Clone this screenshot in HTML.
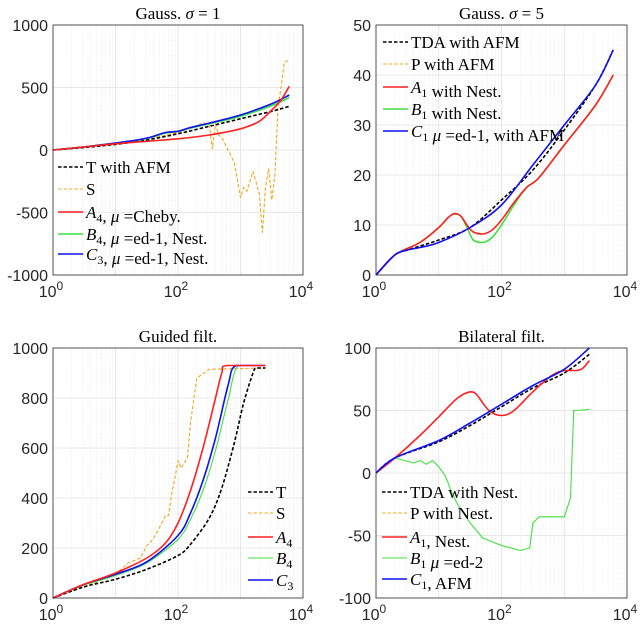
<!DOCTYPE html>
<html><head><meta charset="utf-8"><style>
body{margin:0;background:#fff}
svg{display:block}
.tk{font-family:"Liberation Sans",sans-serif;font-size:16px;fill:#262626}
.tt{font-family:"Liberation Serif",serif;font-size:17px;fill:#000}
.lg{font-family:"Liberation Serif",serif;font-size:17px;fill:#000}
</style></head><body>
<svg id="fig" width="640" height="628" viewBox="0 0 640 628" xmlns="http://www.w3.org/2000/svg"></svg>
<script>
// ---- data (x given as log10 of iteration, y values) ----
const p1T_x=[0,0.5,1,1.5,2,2.5,3,3.5,3.78];
const p1T_y=[0,20,45,80,130,190,250,310,350];
const p1S_x=[0,0.5,1,1.5,2,2.3,2.4,2.5,2.55,2.6,2.65,2.7,2.8,2.9,3.0,3.05,3.1,3.2,3.3,3.35,3.4,3.45,3.5,3.55,3.6,3.65,3.7,3.78];
const p1S_y=[0,22,50,85,140,190,220,200,10,210,120,100,0,-100,-380,-300,-330,-170,-350,-660,-300,-150,-400,-200,350,500,700,720];
const p1A_x=[0,0.5,1,1.5,2,2.5,3,3.3,3.5,3.65,3.78];
const p1A_y=[0,25,50,70,90,120,170,230,320,400,510];
const p1B_x=[0,0.5,1,1.5,1.8,2,2.2,2.5,3,3.5,3.78];
const p1B_y=[0,25,55,92,135,148,175,210,270,355,420];
const p1C_x=[0,0.5,1,1.5,1.8,2,2.2,2.5,3,3.5,3.78];
const p1C_y=[0,25,55,95,140,150,180,215,280,370,440];

const p2T_x=[0,0.3,0.5,1,1.5,2,2.5,3,3.5,3.78];
const p2T_y=[0,4,5,7,9.5,15,21,29,38,45];
const p2A_x=[0,0.3,0.7,1,1.15,1.25,1.35,1.45,1.55,1.7,1.85,2,2.2,2.4,2.6,3,3.5,3.78];
const p2A_y=[0,4,6.5,9.5,11.5,12.3,11.8,10,8.6,8.2,9,11,14.5,17.5,19.5,26,34,40];
const p2B_x=[0,0.3,0.7,1,1.15,1.25,1.35,1.45,1.55,1.7,1.85,2,2.2,2.4,2.6,3,3.5,3.78];
const p2B_y=[0,4,6.5,9.5,11.5,12.2,11.8,9.5,7,6.5,7.5,10,14,17.5,19.5,26,34,40];
const p2C_x=[0,0.3,0.5,0.7,1,1.5,2,2.5,3,3.5,3.78];
const p2C_y=[0,4,5,5.5,6.5,9.5,14,22,30,38,45];

const p3T_x=[0,0.5,1,1.5,2,2.2,2.5,2.7,2.9,3.05,3.2,3.25,3.4];
const p3T_y=[0,45,75,115,170,215,320,440,620,780,900,920,920];
const p3S_x=[0,0.5,1,1.2,1.4,1.5,1.6,1.7,1.8,1.85,1.9,1.95,2.0,2.05,2.1,2.15,2.2,2.3,2.5,3.4];
const p3S_y=[0,45,95,140,160,210,235,280,330,330,420,480,550,520,540,560,700,880,915,920];
const p3A_x=[0,0.5,1,1.5,1.8,2,2.2,2.4,2.6,2.7,2.78,3.4];
const p3A_y=[0,55,100,160,220,300,430,600,800,900,930,930];
const p3B_x=[0,0.5,1,1.5,2,2.2,2.4,2.6,2.8,2.97,3.4];
const p3B_y=[0,52,90,140,235,315,430,590,790,930,930];
const p3C_x=[0,0.5,1,1.5,2,2.2,2.4,2.6,2.8,2.93,3.4];
const p3C_y=[0,55,95,145,250,340,470,640,850,930,930];

const p4T_x=[0,0.3,1,1.5,2,2.5,3,3.4];
const p4T_y=[0,12,25,38,53,68,80,95];
const p4C_x=[0,0.3,1,1.5,2,2.5,3,3.4];
const p4C_y=[0,12,26,40,55,70,83,100];
const p4A_x=[0,0.3,0.7,1,1.3,1.5,1.6,1.8,2,2.2,2.5,2.8,3,3.2,3.3,3.4];
const p4A_y=[0,12,30,45,60,65,63,50,46,50,65,78,82,82,84,90];
const p4B_x=[0,0.3,0.6,0.7,0.8,0.9,1,1.1,1.15,1.2,1.3,1.5,1.7,2,2.3,2.45,2.5,2.6,2.8,3.0,3.1,3.15,3.2,3.4];
const p4B_y=[0,12,8,10,7,10,5,-2,-8,-15,-25,-40,-52,-58,-62,-60,-40,-35,-35,-35,-20,50,50,51];

const yTicks1=[-1000,-500,0,500,1000];
const yTicks2=[0,10,20,30,40,50];
const yTicks3=[0,200,400,600,800,1000];
const yTicks4=[-100,-50,0,50,100];

const NS="http://www.w3.org/2000/svg";
const svg=document.getElementById('fig');
function mk(tag,attrs,parent){const e=document.createElementNS(NS,tag);for(const k in attrs)e.setAttribute(k,attrs[k]);(parent||svg).appendChild(e);return e;}
function smoothPath(P){
  let d='M'+P[0][0].toFixed(1)+','+P[0][1].toFixed(1);
  const cl=(v,a,b)=>Math.max(Math.min(a,b),Math.min(Math.max(a,b),v));
  for(let i=0;i<P.length-1;i++){
    const p0=P[i-1]||P[i],p1=P[i],p2=P[i+1],p3=P[i+2]||P[i+1];
    const c1=[p1[0]+(p2[0]-p0[0])/6,cl(p1[1]+(p2[1]-p0[1])/6,p1[1],p2[1])];
    const c2=[p2[0]-(p3[0]-p1[0])/6,cl(p2[1]-(p3[1]-p1[1])/6,p1[1],p2[1])];
    d+=' C'+c1.map(v=>v.toFixed(1)).join(',')+' '+c2.map(v=>v.toFixed(1)).join(',')+' '+p2[0].toFixed(1)+','+p2[1].toFixed(1);
  }
  return d;
}

function panel(o){
  const g=mk('g',{});
  
  
  const X=v=>o.x0+(o.x1-o.x0)*v/4;
  const Y=v=>o.y1-(o.y1-o.y0)*(v-o.ymin)/(o.ymax-o.ymin);
  for(let d=0;d<4;d++)for(let m=2;m<10;m++){const xx=X(d+Math.log10(m));
    mk('line',{x1:xx,x2:xx,y1:o.y0,y2:o.y1,stroke:'#e3e3e3','stroke-width':0.6,'stroke-dasharray':'1,1.5'},g);}
  for(let d=1;d<4;d++){const xx=X(d);mk('line',{x1:xx,x2:xx,y1:o.y0,y2:o.y1,stroke:'#e0e0e0','stroke-width':0.8},g);}
  o.yt.forEach(t=>{const yy=Y(t);
    if(t!==o.ymin&&t!==o.ymax)mk('line',{x1:o.x0,x2:o.x1,y1:yy,y2:yy,stroke:'#e0e0e0','stroke-width':0.8},g);
    const tl=mk('text',{x:o.x0-5,y:yy+6,'text-anchor':'end',class:'tk'},g);tl.textContent=t;
    });
  [0,2,4].forEach(d=>{const tx=mk('text',{x:X(d)-2,y:o.y1+22,'text-anchor':'middle',class:'tk'},g);
    
    tx.appendChild(document.createTextNode('10'));
    const s=mk('tspan',{dy:-7,'font-size':'12px'},tx);s.textContent=String(d);});
  o.series.forEach(s=>{
    const P=s.x.map((v,i)=>[X(v),Y(s.y[i])]);
    const pl=mk('path',{d:s.rough?'M'+P.map(p=>p[0].toFixed(1)+','+p[1].toFixed(1)).join(' L'):smoothPath(P),fill:'none',stroke:s.c,'stroke-width':s.w||1.6,'stroke-dasharray':s.d||'none','stroke-linejoin':'round'},g);
    
  });
  mk('rect',{x:o.x0,y:o.y0,width:o.x1-o.x0,height:o.y1-o.y0,fill:'none',stroke:'#262626','stroke-width':0.8},g);
  const ti=mk('text',{x:(o.x0+o.x1)/2,y:o.y0-6,'text-anchor':'middle',class:'tt'},g);ti.innerHTML=o.title;
  
  const lg=mk('g',{},g);
  
  o.leg.forEach((L,i)=>{const yy=o.ly[i];
    mk('line',{x1:o.lx,x2:o.lx+25,y1:yy,y2:yy,stroke:L.c,'stroke-width':L.w||1.6,'stroke-dasharray':L.d||'none'},lg);
    const t=mk('text',{x:o.lx+28,y:yy+6,class:'lg'},lg);t.innerHTML=L.t;
    });
}
const K='#000',O='#f0a820',R='#ff2020',G='#40e040',B='#1010f0';
const dsh='3.5,2';
const sub=(L,n)=>'<tspan font-style="italic">'+L+'</tspan><tspan font-size="12px" dy="4">'+n+'</tspan><tspan dy="-4"></tspan>';
const mu='<tspan font-style="italic">μ</tspan>';

panel({name:'panel-gauss-sigma1',x0:53,x1:303,y0:25,y1:275,ymin:-1000,ymax:1000,yt:yTicks1,
 title:'Gauss. <tspan font-style="italic">σ</tspan> = 1',
 series:[{x:p1S_x,y:p1S_y,c:O,d:dsh,w:1.1,rough:true,n:'series-S'},{x:p1T_x,y:p1T_y,c:K,d:dsh,n:'series-T'},
  {x:p1B_x,y:p1B_y,c:G,n:'series-B4'},{x:p1C_x,y:p1C_y,c:B,n:'series-C3'},{x:p1A_x,y:p1A_y,c:R,n:'series-A4'}],
 lx:58,ly:[167,189,212,234,254],
 leg:[{c:K,d:dsh,t:'T with AFM'},{c:O,d:dsh,w:1.1,t:'S'},{c:R,t:sub('A','4')+', '+mu+' =Cheby.'},
  {c:G,t:sub('B','4')+', '+mu+' =ed-1, Nest.'},{c:B,t:sub('C','3')+', '+mu+' =ed-1, Nest.'}]});

panel({name:'panel-gauss-sigma5',x0:376,x1:627,y0:25,y1:275,ymin:0,ymax:50,yt:yTicks2,
 title:'Gauss. <tspan font-style="italic">σ</tspan> = 5',
 series:[{x:p2T_x,y:p2T_y,c:O,d:dsh,w:1.1,n:'series-P'},{x:p2T_x,y:p2T_y,c:K,d:dsh,n:'series-TDA'},
  {x:p2B_x,y:p2B_y,c:G,n:'series-B1'},{x:p2A_x,y:p2A_y,c:R,n:'series-A1'},{x:p2C_x,y:p2C_y,c:B,n:'series-C1'}],
 lx:383,ly:[42,64,87,109,131],
 leg:[{c:K,d:dsh,t:'TDA with AFM'},{c:O,d:dsh,w:1.1,t:'P with AFM'},{c:R,t:sub('A','1')+' with Nest.'},
  {c:G,t:sub('B','1')+' with Nest.'},{c:B,t:sub('C','1')+' '+mu+' =ed-1, with AFM'}]});

panel({name:'panel-guided-filter',x0:53,x1:303,y0:348,y1:598,ymin:0,ymax:1000,yt:yTicks3,
 title:'Guided filt.',
 series:[{x:p3S_x,y:p3S_y,c:O,d:dsh,w:1.1,rough:true,n:'series-S'},{x:p3T_x,y:p3T_y,c:K,d:dsh,n:'series-T'},
  {x:p3B_x,y:p3B_y,c:G,w:1.1,n:'series-B4'},{x:p3C_x,y:p3C_y,c:B,n:'series-C3'},{x:p3A_x,y:p3A_y,c:R,n:'series-A4'}],
 lx:248,ly:[492,513,537,558,580],
 leg:[{c:K,d:dsh,t:'T'},{c:O,d:dsh,w:1.1,t:'S'},{c:R,t:sub('A','4')},{c:G,w:1.1,t:sub('B','4')},{c:B,t:sub('C','3')}]});

panel({name:'panel-bilateral-filter',x0:376,x1:627,y0:348,y1:598,ymin:-100,ymax:100,yt:yTicks4,
 title:'Bilateral filt.',
 series:[{x:p4T_x,y:p4T_y,c:O,d:dsh,w:1.1,n:'series-P'},{x:p4T_x,y:p4T_y,c:K,d:dsh,n:'series-TDA'},
  {x:p4B_x,y:p4B_y,c:G,w:1.1,rough:true,n:'series-B1'},{x:p4A_x,y:p4A_y,c:R,n:'series-A1'},{x:p4C_x,y:p4C_y,c:B,n:'series-C1'}],
 lx:382,ly:[492,513,537,558,579],
 leg:[{c:K,d:dsh,t:'TDA with Nest.'},{c:O,d:dsh,w:1.1,t:'P with Nest.'},{c:R,t:sub('A','1')+', Nest.'},
  {c:G,w:1.1,t:sub('B','1')+' '+mu+' =ed-2'},{c:B,t:sub('C','1')+', AFM'}]});
</script>
</body></html>
